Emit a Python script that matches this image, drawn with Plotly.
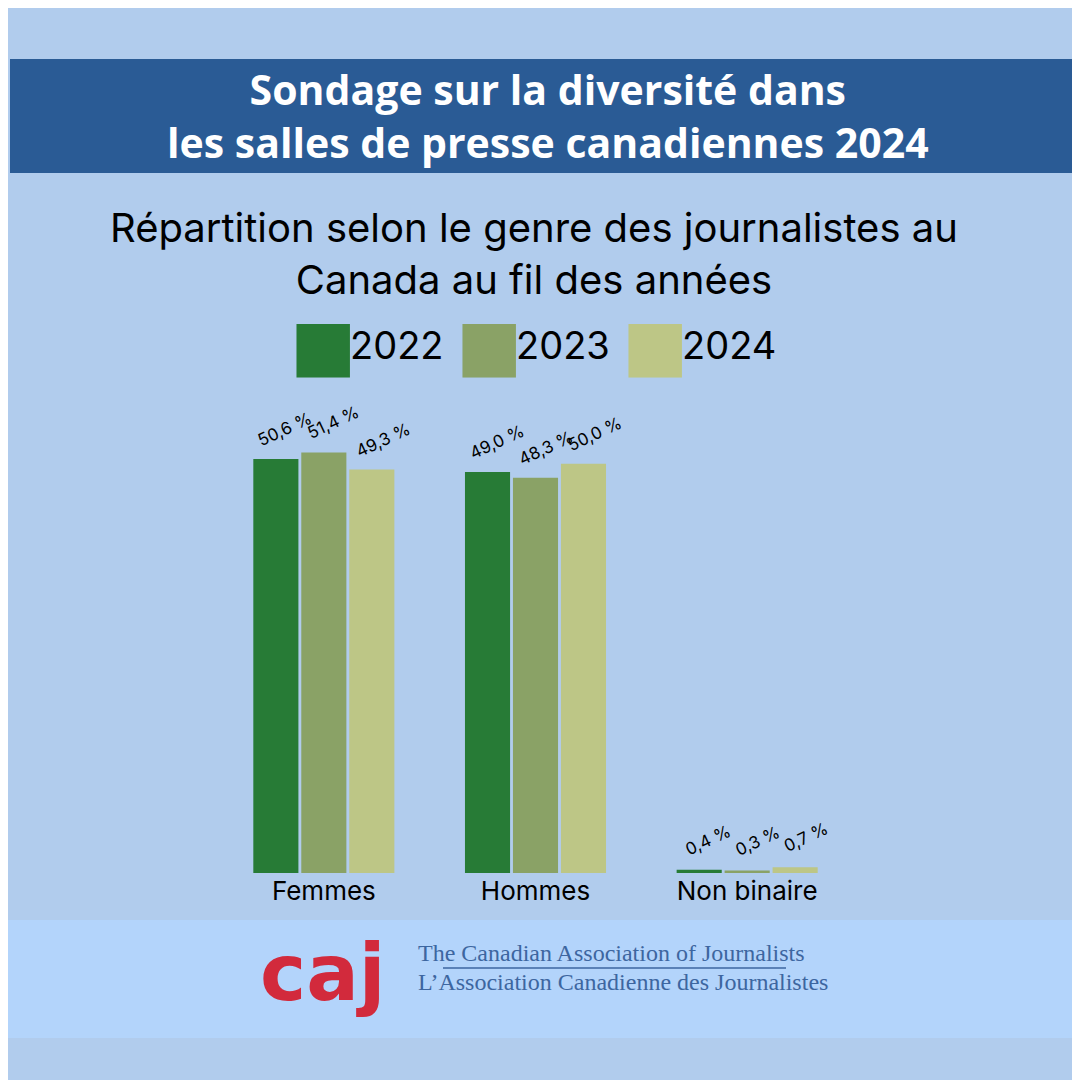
import plotly.graph_objects as go

categories = ["Femmes", "Hommes", "Non binaire"]
years = ["2022", "2023", "2024"]
values_2022 = [50.6, 49.0, 0.4]
values_2023 = [51.4, 48.3, 0.3]
values_2024 = [49.3, 50.0, 0.7]
colors = ["#277b36", "#8aa266", "#bdc686"]

fig = go.Figure()
for i, (year, vals, col) in enumerate(zip(years, [values_2022, values_2023, values_2024], colors)):
    fig.add_trace(go.Bar(x=categories, y=vals, name=year, marker_color=col,
                         marker_line_width=0))
    for cat, v in zip(categories, vals):  # étiquettes inclinées
        fig.add_annotation(x=cat, y=v, xshift=(i - 1) * 49 + 10, yshift=30,
                           xanchor="center", yanchor="middle", showarrow=False,
                           textangle=-25, text=f"{v:.1f} %".replace(".", ","),
                           font=dict(size=17, color="black", family="Inter"))

fig.update_layout(
    width=1080, height=1080, margin=dict(t=0, l=0, r=0, b=0),
    paper_bgcolor="#b1cced", plot_bgcolor="rgba(0,0,0,0)",
    showlegend=False, bargap=0.32, bargroupgap=0.06,
    font=dict(family="Inter", color="black"),
    xaxis=dict(domain=[210/1080, 845/1080], range=[-0.5, 2.5], showgrid=False,
               tickfont=dict(size=26), ticks="", ticklen=0),
    yaxis=dict(domain=[215/1080, 706/1080], range=[0, 60], visible=False),
)

# bandeau titre et bas de page
fig.add_shape(type="rect", xref="paper", yref="paper", x0=2/1080, x1=1078/1080,
              y0=1-165/1080, y1=1-51/1080, fillcolor="#2a5b95", line_width=0, layer="below")
fig.add_shape(type="rect", xref="paper", yref="paper", x0=0, x1=1,
              y0=1-1030/1080, y1=1-912/1080, fillcolor="#b3d4fb", line_width=0, layer="below")


def note(x, y, text, **font):
    fig.add_annotation(xref="paper", yref="paper", x=x/1080, y=1-y/1080, xanchor="left",
                       yanchor="middle", showarrow=False, text=text, font=font)


fig.add_annotation(xref="paper", yref="paper", x=0.5, y=1-108/1080, xanchor="center",
                   yanchor="middle", showarrow=False,
                   text="<b>Sondage sur la diversité dans<br>les salles de presse canadiennes 2024</b>",
                   font=dict(size=41, color="white", family="Open Sans"))
fig.add_annotation(xref="paper", yref="paper", x=0.487, y=1-245/1080, xanchor="center",
                   yanchor="middle", showarrow=False,
                   text="Répartition selon le genre des journalistes au<br>Canada au fil des années",
                   font=dict(size=40, color="black", family="Inter"))

# légende
for i, (year, col) in enumerate(zip(years, colors)):
    x0 = 280 + i * 166
    note(x0, 337, f"<span style='color:{col}'>■</span>", size=70, family="DejaVu Sans")
    note(x0 + 60, 337, year, size=38, color="black", family="Inter")

# logo
note(250, 965, "<b>caj</b>", size=78, color="#d22a3c", family="DejaVu Sans")
note(408, 945, "The Canadian Association of Journalists", size=24, color="#3d66a0",
     family="Liberation Serif")
note(408, 974, "L’Association Canadienne des Journalistes", size=24, color="#3d66a0",
     family="Liberation Serif")
fig.add_shape(type="line", xref="paper", yref="paper", x0=435/1080, x1=778/1080,
              y0=1-960/1080, y1=1-960/1080, line=dict(color="#3d66a0", width=1.5))

fig.write_html("out.html")
